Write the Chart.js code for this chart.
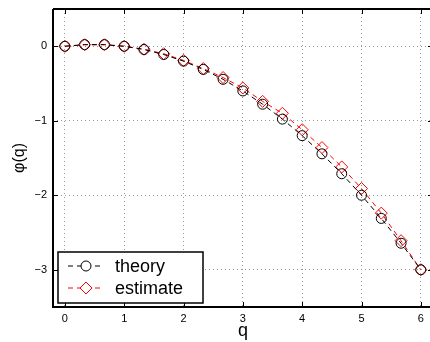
<!DOCTYPE html>
<html lang="en">
<head>
  <meta charset="UTF-8">
  <title>phi(q)</title>
  <script src="https://cdn.jsdelivr.net/npm/chart.js"></script>
  <style>
    html, body { margin: 0; padding: 0; background: #fff; overflow: hidden; }
    #wrap { width: 430px; height: 342px; overflow: hidden; }
  </style>
</head>
<body>
  <div id="wrap"><canvas id="phiChart" width="440" height="342"></canvas></div>

  <script>
    // q values (0 to 6, in thirds)
    const qValues = [0, 0.3333, 0.6667, 1, 1.3333, 1.6667, 2, 2.3333, 2.6667, 3,
                     3.3333, 3.6667, 4, 4.3333, 4.6667, 5, 5.3333, 5.6667, 6];
    const theory = [0, 0.022, 0.022, 0, -0.044, -0.111, -0.2, -0.311, -0.444, -0.6,
                    -0.778, -0.978, -1.2, -1.444, -1.711, -2.0, -2.311, -2.644, -3.0];
    const estimate = [0, 0.02, 0.02, 0, -0.04, -0.1, -0.19, -0.3, -0.42, -0.56,
                      -0.74, -0.9, -1.12, -1.36, -1.62, -1.91, -2.24, -2.61, -3.0];
    const xTicks = [0, 1, 2, 3, 4, 5, 6];
    const yTicks = [0, -1, -2, -3];
    const seriesNames = ['theory', 'estimate'];

    const FONT = 'Liberation Sans, Arial, sans-serif';

    function toPoints(ys) {
      return qValues.map((q, i) => ({ x: q, y: ys[i] }));
    }

    // frame, inner tick marks and legend box, MATLAB style
    const framePlugin = {
      id: 'frame',
      afterDraw(chart) {
        const ctx = chart.ctx;
        const a = chart.chartArea;
        const xs = chart.scales.x, ys = chart.scales.y;
        ctx.save();
        ctx.strokeStyle = '#000';
        ctx.lineWidth = 1;
        ctx.beginPath();
        xTicks.forEach(t => {
          const px = Math.round(xs.getPixelForValue(t)) + 0.5;
          ctx.moveTo(px, a.bottom); ctx.lineTo(px, a.bottom - 5);
          ctx.moveTo(px, a.top); ctx.lineTo(px, a.top + 5);
        });
        yTicks.forEach(t => {
          const py = Math.round(ys.getPixelForValue(t)) + 0.5;
          ctx.moveTo(a.left, py); ctx.lineTo(a.left + 5, py);
          ctx.moveTo(a.right, py); ctx.lineTo(a.right - 5, py);
        });
        ctx.stroke();

        ctx.lineWidth = 2;
        ctx.beginPath();
        ctx.moveTo(a.left, a.top);
        ctx.lineTo(a.right, a.top);
        ctx.moveTo(a.left, a.top);
        ctx.lineTo(a.left, a.bottom);
        ctx.lineTo(a.right, a.bottom);
        ctx.stroke();

        // legend
        const bx = a.left + 5, by = a.bottom - 55, bw = 145, bh = 51;
        ctx.fillStyle = '#fff';
        ctx.fillRect(bx, by, bw, bh);
        ctx.lineWidth = 1.5;
        ctx.strokeRect(bx, by, bw, bh);
        ctx.font = '18px ' + FONT;
        ctx.textBaseline = 'middle';
        chart.data.datasets.forEach((ds, i) => {
          const cy = by + 14 + i * 22;
          ctx.strokeStyle = ds.borderColor;
          ctx.lineWidth = 1;
          ctx.setLineDash([5, 4]);
          ctx.beginPath();
          ctx.moveTo(bx + 10, cy); ctx.lineTo(bx + 46, cy);
          ctx.stroke();
          ctx.setLineDash([]);
          ctx.beginPath();
          if (ds.pointStyle === 'circle') {
            ctx.arc(bx + 28, cy, 5, 0, Math.PI * 2);
          } else {
            ctx.moveTo(bx + 28, cy - 6); ctx.lineTo(bx + 34, cy);
            ctx.lineTo(bx + 28, cy + 6); ctx.lineTo(bx + 22, cy); ctx.closePath();
          }
          ctx.fillStyle = '#fff';
          ctx.fill();
          ctx.stroke();
          ctx.fillStyle = '#000';
          ctx.fillText(seriesNames[i], bx + 57, cy + 1);
        });
        ctx.restore();
      }
    };

    const ctxPhi = document.getElementById('phiChart').getContext('2d');
    const phiChart = new Chart(ctxPhi, {
      type: 'line',
      data: {
        datasets: [{
          label: seriesNames[0],
          data: toPoints(theory),
          borderColor: '#000',
          backgroundColor: 'rgba(0,0,0,0)',
          borderWidth: 1,
          borderDash: [5, 4],
          pointStyle: 'circle',
          pointRadius: 5,
          pointBorderWidth: 1,
          pointBackgroundColor: 'rgba(0,0,0,0)',
          tension: 0
        }, {
          label: seriesNames[1],
          data: toPoints(estimate),
          borderColor: '#ff0000',
          backgroundColor: 'rgba(0,0,0,0)',
          borderWidth: 1,
          borderDash: [5, 4],
          pointStyle: 'rectRot',
          pointRadius: 6,
          pointBorderWidth: 1,
          pointBackgroundColor: 'rgba(0,0,0,0)',
          tension: 0
        }]
      },
      options: {
        responsive: false,
        animation: false,
        layout: { padding: { top: 9, right: 0, left: 0, bottom: 0 } },
        plugins: {
          legend: { display: false },
          tooltip: { enabled: false }
        },
        scales: {
          x: {
            type: 'linear',
            min: -0.2,
            max: 6.205,
            afterBuildTicks: s => { s.ticks = xTicks.map(v => ({ value: v })); },
            afterFit: s => { s.height = 35; s.paddingRight = 0; s.paddingLeft = 0; },
            grid: {
              color: '#999',
              drawTicks: false,
              lineWidth: 1
            },
            border: { display: false, dash: [1, 3] },
            ticks: {
              color: '#000',
              padding: 5,
              font: { family: FONT, size: 11 },
              callback: v => String(v)
            },
            title: {
              display: true,
              text: 'q',
              color: '#000',
              padding: { top: 3, bottom: 0 },
              font: { family: FONT, size: 18 }
            }
          },
          y: {
            type: 'linear',
            min: -3.5,
            max: 0.5,
            afterBuildTicks: s => { s.ticks = yTicks.map(v => ({ value: v })); },
            afterFit: s => { s.width = 53; s.paddingTop = 0; s.paddingBottom = 0; },
            grid: {
              color: '#999',
              drawTicks: false,
              lineWidth: 1
            },
            border: { display: false, dash: [1, 3] },
            ticks: {
              color: '#000',
              padding: 6,
              font: { family: FONT, size: 11 },
              callback: v => (v < 0 ? '\u2212' + Math.abs(v) : String(v))
            },
            title: {
              display: true,
              text: '\u03c6(q)',
              color: '#000',
              padding: { top: 10, bottom: 0 },
              font: { family: FONT, size: 16 }
            }
          }
        }
      },
      plugins: [framePlugin]
    });
  </script>
</body>
</html>
